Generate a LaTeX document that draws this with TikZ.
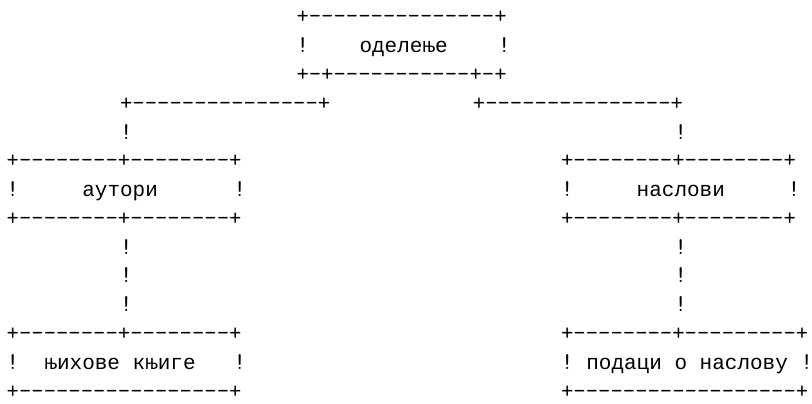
\documentclass[tikz,border=0pt]{standalone}
\usepackage{fontspec}
\newfontfamily\cyrfont{Liberation Mono}
\newcommand\hy[1]{\foreach\k in {1,...,#1}{-\kern0pt}}
\tikzset{
  seg/.style={anchor=base west,inner sep=0pt,outer sep=0pt,
    font=\ttfamily\fontsize{24}{28}\selectfont},
  cyr/.style={font=\cyrfont\fontsize{21}{28}\selectfont}
}
\newcommand\seg[5][]{\node[seg,#1] (#2) at ({6.7pt+12.6pt*#3},{-24pt-28.77pt*(#4-1)}) {#5};}
\begin{document}
\begin{tikzpicture}
\useasboundingbox (0pt,0pt) rectangle (812pt,-404pt);
% row 1-3: department
\seg{r1}{23}{1}{+\hy{15}+}
\seg{r2a}{23}{2}{!}
\seg[cyr]{dept}{28}{2}{оделење}
\seg{r2b}{39}{2}{!}
\seg{r3}{23}{3}{+-+\hy{11}+-+}
% row 4-5: branches
\seg{r4a}{9}{4}{+\hy{15}+}
\seg{r4b}{37}{4}{+\hy{15}+}
\seg{r5a}{9}{5}{!}
\seg{r5b}{53}{5}{!}
% row 6-8: authors / titles
\seg{r6a}{0}{6}{+\hy{8}+\hy{8}+}
\seg{r6b}{44}{6}{+\hy{8}+\hy{8}+}
\seg{r7a}{0}{7}{!}
\seg[cyr]{authors}{6}{7}{аутори}
\seg{r7b}{18}{7}{!}
\seg{r7c}{44}{7}{!}
\seg[cyr]{titles}{50}{7}{наслови}
\seg{r7d}{62}{7}{!}
\seg{r8a}{0}{8}{+\hy{8}+\hy{8}+}
\seg{r8b}{44}{8}{+\hy{8}+\hy{8}+}
% rows 9-11: links
\seg{r9a}{9}{9}{!}
\seg{r9b}{53}{9}{!}
\seg{r10a}{9}{10}{!}
\seg{r10b}{53}{10}{!}
\seg{r11a}{9}{11}{!}
\seg{r11b}{53}{11}{!}
% rows 12-14: books / title data
\seg{r12a}{0}{12}{+\hy{8}+\hy{8}+}
\seg{r12b}{44}{12}{+\hy{8}+\hy{9}+}
\seg{r13a}{0}{13}{!}
\seg[cyr]{books}{3}{13}{њихове књиге}
\seg{r13b}{18}{13}{!}
\seg{r13c}{44}{13}{!}
\seg[cyr]{data}{46}{13}{подаци о наслову}
\seg{r13d}{63}{13}{!}
\seg{r14a}{0}{14}{+\hy{17}+}
\seg{r14b}{44}{14}{+\hy{18}+}
\end{tikzpicture}
\end{document}
